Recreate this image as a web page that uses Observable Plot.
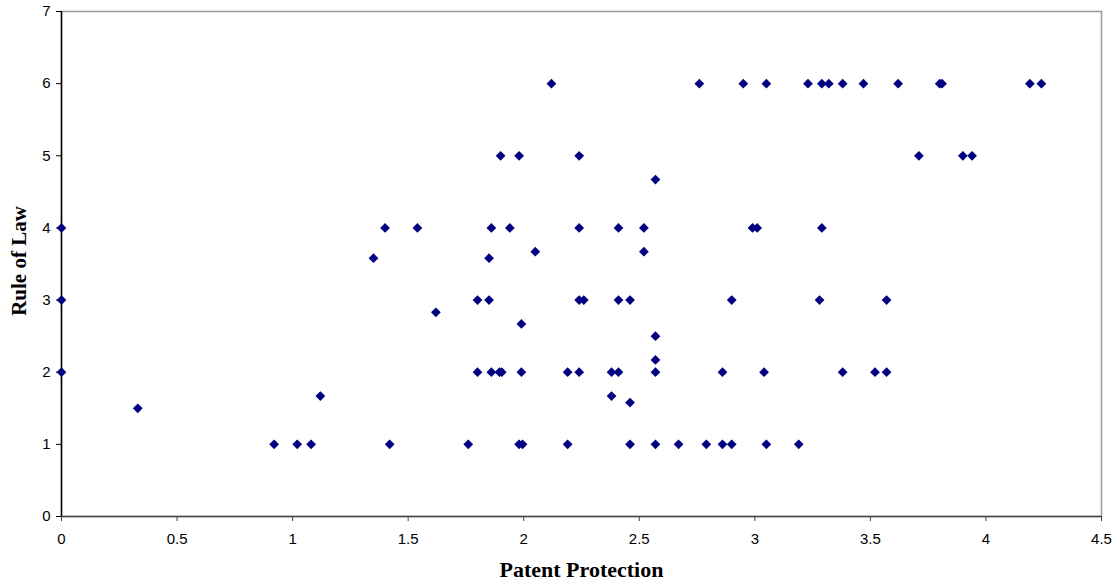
<!DOCTYPE html>
<html>
<head>
<meta charset="utf-8">
<script src="https://cdn.jsdelivr.net/npm/d3@7"></script>
<script src="https://cdn.jsdelivr.net/npm/@observablehq/plot@0.6"></script>
<style>
  html, body { margin: 0; padding: 0; background: #fff; }
  #chart svg { display: block; }
</style>
</head>
<body>
<div id="chart"></div>
<script>
// Patent Protection (x) and Rule of Law (y)
const patent = [
  0, 0, 0,
  0.33,
  0.92, 1.02, 1.08, 1.12, 1.42,
  1.35, 1.40, 1.54,
  1.62,
  1.76,
  1.80, 1.80,
  1.85, 1.85,
  1.86, 1.86,
  1.895, 1.905,
  1.90,
  1.94,
  1.98,
  1.98, 1.995,
  1.99, 1.99,
  2.05,
  2.12,
  2.19, 2.19,
  2.24, 2.24, 2.24, 2.24,
  2.26,
  2.38, 2.38,
  2.41, 2.41, 2.41,
  2.46, 2.46, 2.46,
  2.52, 2.52,
  2.57, 2.57, 2.57, 2.57, 2.57,
  2.67,
  2.76,
  2.79,
  2.86, 2.86,
  2.90, 2.90,
  2.95,
  2.99, 3.01,
  3.04, 3.05, 3.05,
  3.19,
  3.23,
  3.28, 3.29, 3.29,
  3.32,
  3.38, 3.38,
  3.47,
  3.52,
  3.57, 3.57,
  3.62,
  3.71,
  3.80, 3.81,
  3.90, 3.94,
  4.19, 4.24
];
const ruleOfLaw = [
  4, 3, 2,
  1.5,
  1, 1, 1, 1.67, 1,
  3.58, 4, 4,
  2.83,
  1,
  3, 2,
  3.58, 3,
  4, 2,
  2, 2,
  5,
  4,
  5,
  1, 1,
  2.67, 2,
  3.67,
  6,
  2, 1,
  5, 4, 3, 2,
  3,
  2, 1.67,
  4, 3, 2,
  3, 1.58, 1,
  4, 3.67,
  4.67, 2.5, 2.17, 2, 1,
  1,
  6,
  1,
  2, 1,
  3, 1,
  6,
  4, 4,
  2, 6, 1,
  1,
  6,
  3, 6, 4,
  6,
  6, 2,
  6,
  2,
  3, 2,
  6,
  5,
  6, 6,
  5, 5,
  6, 6
];
const xTicks = [0, 0.5, 1, 1.5, 2, 2.5, 3, 3.5, 4, 4.5];
const yTicks = [0, 1, 2, 3, 4, 5, 6, 7];
const xTitle = "Patent Protection";
const yTitle = "Rule of Law";

const data = patent.map((p, i) => ({ patent: p, law: ruleOfLaw[i] }));
const sans = "'Liberation Sans', Arial, sans-serif";
const serif = "'Liberation Serif', 'Times New Roman', serif";

const chart = Plot.plot({
  width: 1117,
  height: 583,
  marginLeft: 61,
  marginRight: 16,
  marginTop: 11,
  marginBottom: 67,
  style: { fontFamily: sans, fontSize: "15px", color: "#000", background: "#fff" },
  x: { domain: [0, 4.5], ticks: xTicks },
  y: { domain: [0, 7], ticks: yTicks },
  marks: [
    Plot.frame({ stroke: "#999", strokeWidth: 1.5 }),
    Plot.axisX({ ticks: xTicks, tickSize: 5, tickPadding: 12, label: null, stroke: "#444", fontSize: 15, fontFamily: sans, tickFormat: d => String(d) }),
    Plot.axisY({ ticks: yTicks, tickSize: 5, tickPadding: 6, label: null, stroke: "#000", fontSize: 15, fontFamily: sans, tickFormat: d => String(d) }),
    Plot.ruleY([0], { stroke: "#444", strokeWidth: 1.5 }),
    Plot.ruleX([0], { stroke: "#000", strokeWidth: 1.5 }),
    Plot.dot(data, { x: "patent", y: "law", symbol: "diamond2", r: 4.4, fill: "#000080", stroke: null }),
    Plot.text([xTitle], { text: d => d, frameAnchor: "bottom", textAnchor: "middle", lineAnchor: "middle", dy: 53, fontFamily: serif, fontWeight: "bold", fontSize: 22, fill: "#000" }),
    Plot.text([yTitle], { text: d => d, frameAnchor: "left", textAnchor: "middle", lineAnchor: "middle", dx: -42, dy: -3, rotate: -90, fontFamily: serif, fontWeight: "bold", fontSize: 21, fill: "#000" })
  ]
});
document.getElementById("chart").append(chart);
</script>
</body>
</html>
